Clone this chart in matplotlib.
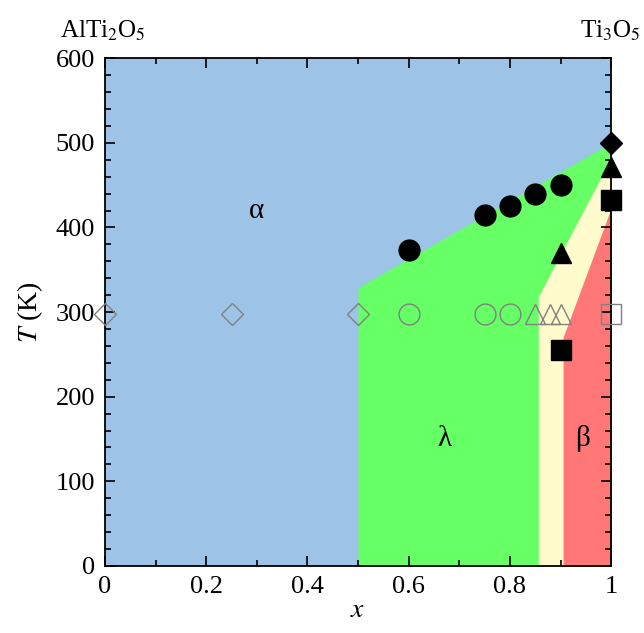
import matplotlib
matplotlib.use('Agg')
import matplotlib.pyplot as plt
from matplotlib.ticker import MultipleLocator

plt.rcParams['font.family'] = ['Liberation Serif', 'DejaVu Serif']
plt.rcParams['mathtext.fontset'] = 'stix'

# phase region boundaries (x, T)
lam_x = [0.5, 1.0]
lam_top = [329, 500]
yel_x = [0.856, 0.856, 1.0]
yel_top = [0, 318, 482]
red_x = [0.905, 0.905, 1.0]
red_top = [0, 270, 423]

# filled symbols: transition temperatures
circ_x = [0.6, 0.75, 0.8, 0.85, 0.9]
circ_T = [373, 415, 425, 440, 450]
tri_x = [0.9, 1.0]
tri_T = [370, 472]
sq_x = [0.9, 1.0]
sq_T = [255, 432]
dia_x = [1.0]
dia_T = [500]

# open symbols at room temperature
o_dia_x = [0.0, 0.25, 0.5]
o_circ_x = [0.6, 0.75, 0.8]
o_tri_x = [0.85, 0.88, 0.9]
o_sq_x = [1.0]
room_T = 298

xtick_labels = ['0', '0.2', '0.4', '0.6', '0.8', '1']

fig = plt.figure(figsize=(6.44, 6.33), dpi=100)
ax = fig.add_axes([0.163, 0.106, 0.786, 0.802])
ax.set_facecolor('#9dc3e6')

ax.fill_between(lam_x, 0, lam_top, color='#66ff66', lw=0)
ax.fill_between(yel_x, 0, yel_top, color='#fffbcc', lw=0)
ax.fill_between(red_x, 0, red_top, color='#ff7777', lw=0)

ms = 15
ax.plot(circ_x, circ_T, 'o', color='black', ms=ms, clip_on=False, zorder=5)
ax.plot(tri_x, tri_T, '^', color='black', ms=ms, clip_on=False, zorder=5)
ax.plot(sq_x, sq_T, 's', color='black', ms=ms - 1, clip_on=False, zorder=5)
ax.plot(dia_x, dia_T, 'D', color='black', ms=ms - 4, clip_on=False, zorder=5)

gray = '#808080'
opn = dict(ls='none', mfc='none', mec=gray, mew=1.0, clip_on=False, zorder=5)
ax.plot(o_dia_x, [room_T] * len(o_dia_x), 'D', ms=ms - 4, **opn)
ax.plot(o_circ_x, [room_T] * len(o_circ_x), 'o', ms=ms, **opn)
ax.plot(o_tri_x, [room_T] * len(o_tri_x), '^', ms=ms, **opn)
ax.plot(o_sq_x, [room_T] * len(o_sq_x), 's', ms=ms - 1, **opn)

ax.set_xlim(0, 1)
ax.set_ylim(0, 600)
ax.set_xticks([0, 0.2, 0.4, 0.6, 0.8, 1.0])
ax.set_xticklabels(xtick_labels)
ax.xaxis.set_minor_locator(MultipleLocator(0.1))
ax.yaxis.set_major_locator(MultipleLocator(100))
ax.yaxis.set_minor_locator(MultipleLocator(20))
ax.tick_params(which='both', direction='in', top=True, right=True, labelsize=19, pad=7)
ax.tick_params(which='major', length=7, width=1.2)
ax.tick_params(which='minor', length=4, width=1.2)
for s in ax.spines.values():
    s.set_linewidth(1.3)

ax.set_xlabel('$x$', fontsize=20, labelpad=0)
ax.set_ylabel('$T$ (K)', fontsize=20, labelpad=8)

ax.text(0.3, 420, 'α', fontsize=21, ha='center', va='center')
ax.text(0.67, 150, 'λ', fontsize=21, ha='center', va='center')
ax.text(0.943, 150, 'β', fontsize=21, ha='center', va='center')

fig.text(0.093, 0.952, 'AlTi$_2$O$_5$', fontsize=18, ha='left', va='center')
fig.text(0.995, 0.952, 'Ti$_3$O$_5$', fontsize=18, ha='right', va='center')

fig.savefig('out.png', dpi=100)
